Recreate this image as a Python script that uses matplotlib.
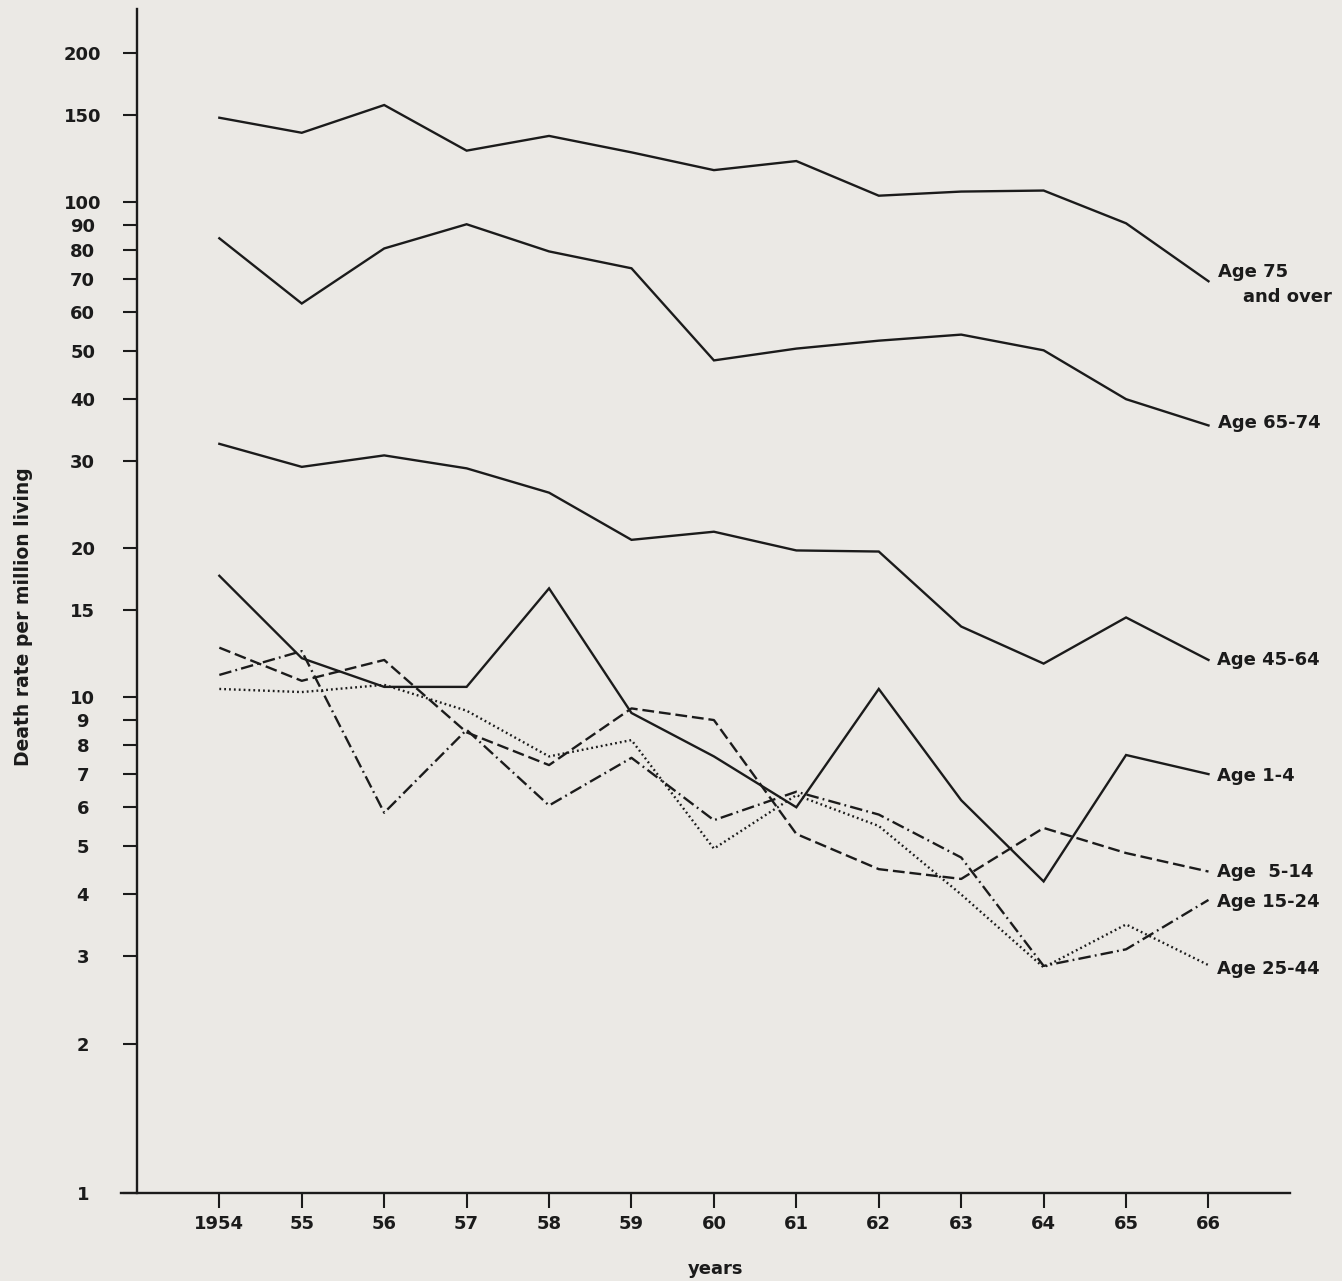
import matplotlib
matplotlib.use("Agg")
import matplotlib.pyplot as plt
from matplotlib.ticker import NullLocator

# Death rate per million living, by age group, 1954-1966
years = [1954, 1955, 1956, 1957, 1958, 1959, 1960, 1961, 1962, 1963, 1964, 1965, 1966]
year_labels = ["1954", "55", "56", "57", "58", "59", "60", "61", "62", "63", "64", "65", "66"]

age_75_over = [148, 138, 157, 127, 136, 126, 116, 121, 103, 105, 105.5, 90.6, 69.2]
age_65_74 = [84.5, 62.4, 80.6, 90.2, 79.5, 73.5, 47.9, 50.6, 52.5, 54.0, 50.2, 40.0, 35.4]
age_45_64 = [32.5, 29.2, 30.8, 29.0, 25.9, 20.8, 21.6, 19.8, 19.7, 13.9, 11.7, 14.5, 11.9]
age_1_4 = [17.6, 12.0, 10.5, 10.5, 16.6, 9.3, 7.6, 6.0, 10.4, 6.2, 4.25, 7.65, 7.0]
age_5_14 = [12.6, 10.8, 11.9, 8.5, 7.3, 9.5, 9.0, 5.3, 4.5, 4.3, 5.45, 4.85, 4.45]
age_15_24 = [11.1, 12.4, 5.85, 8.6, 6.05, 7.55, 5.65, 6.45, 5.8, 4.75, 2.87, 3.1, 3.9]
age_25_44 = [10.4, 10.25, 10.6, 9.4, 7.6, 8.2, 4.95, 6.35, 5.5, 4.0, 2.85, 3.48, 2.88]

y_ticks = [1, 2, 3, 4, 5, 6, 7, 8, 9, 10, 15, 20, 30, 40, 50, 60, 70, 80, 90, 100, 150, 200]

paper = "#ebe9e5"
ink = "#1b1b1b"

plt.rcParams["font.family"] = ["DejaVu Sans"]
plt.rcParams["font.weight"] = "bold"
plt.rcParams["axes.labelweight"] = "bold"
plt.rcParams["lines.scale_dashes"] = False

fs = 13

fig = plt.figure(figsize=(13.42, 12.81), dpi=100, facecolor=paper)
ax = fig.add_axes([0.09016, 0.06893, 0.8711, 0.92381])
ax.set_facecolor(paper)

ax.set_yscale("log")
ax.set_xlim(1952.807, 1966.989)
ax.set_ylim(1, 245)

# series: values, dash pattern, end label and its offset (pixels)
series = [
    (age_75_over, "-", None),
    (age_65_74, "-", ("Age 65-74", (10, 2))),
    (age_45_64, "-", ("Age 45-64", (9, 0))),
    (age_1_4, "-", ("Age 1-4", (9, -2))),
    (age_5_14, (0, (8.5, 3.5)), ("Age  5-14", (9, 0))),
    (age_15_24, (0, (9, 3, 1.3, 3)), ("Age 15-24", (9, -2))),
    (age_25_44, (0, (1.3, 2.2)), ("Age 25-44", (9, -4))),
]

for vals, ls, lab in series:
    ax.plot(years, vals, color=ink, lw=1.7, linestyle=ls,
            dash_capstyle="butt", solid_joinstyle="miter")
    if lab is not None:
        text, (dx, dy) = lab
        ax.annotate(text, xy=(years[-1], vals[-1]), xytext=(dx, dy),
                    textcoords="offset pixels", ha="left", va="center",
                    fontsize=fs, color=ink)

ax.annotate("Age 75", xy=(years[-1], age_75_over[-1]), xytext=(10, 9),
            textcoords="offset pixels", ha="left", va="center",
            fontsize=fs, color=ink)
ax.annotate("and over", xy=(years[-1], age_75_over[-1]), xytext=(35, -16),
            textcoords="offset pixels", ha="left", va="center",
            fontsize=fs, color=ink)

# axes frame: left axis drawn at 1953, bottom axis runs a little past it
ax.spines["left"].set_position(("data", 1953))
ax.spines["top"].set_visible(False)
ax.spines["right"].set_visible(False)
for s in ("left", "bottom"):
    ax.spines[s].set_linewidth(1.7)
    ax.spines[s].set_color(ink)

ax.set_xticks(years)
ax.set_xticklabels(year_labels)
ax.set_yticks(y_ticks)
ax.set_yticklabels([str(v) for v in y_ticks])
ax.yaxis.set_minor_locator(NullLocator())
ax.tick_params(axis="x", direction="out", length=11, width=1.5, color=ink,
               labelsize=fs, labelcolor=ink, pad=5)
ax.tick_params(axis="y", direction="out", length=10, width=1.5, color=ink,
               labelsize=fs, labelcolor=ink, pad=29)
for t in ax.get_yticklabels():
    t.set_horizontalalignment("center")

ax.set_xlabel("years", fontsize=fs, fontweight="bold", color=ink)
ax.xaxis.set_label_coords(0.509, -0.057)
ax.set_ylabel("Death rate per million living", fontsize=13.5,
              fontweight="bold", color=ink)
ax.yaxis.set_label_coords(-0.0753, 0.4865)

fig.savefig("out.png", dpi=100, facecolor=paper)
